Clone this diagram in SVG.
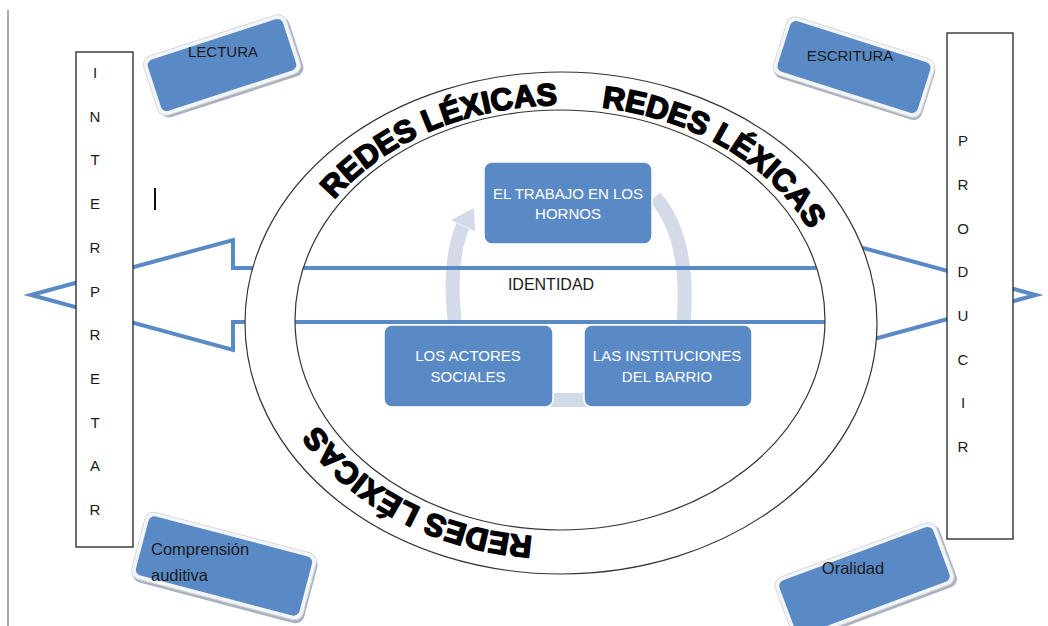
<svg xmlns="http://www.w3.org/2000/svg" xmlns:xlink="http://www.w3.org/1999/xlink" width="1048" height="626" viewBox="0 0 1048 626">
<style>
.lbl{font-family:"Liberation Sans",Arial,sans-serif;font-size:15px;fill:#1a1a1a}
.wl{font-family:"Liberation Sans",Arial,sans-serif;font-size:15px;fill:#ffffff;text-anchor:middle}
.vl{font-family:"Liberation Sans",Arial,sans-serif;font-size:15px;fill:#1a1a1a;text-anchor:middle}
.arc{font-family:"Liberation Sans",Arial,sans-serif;font-weight:bold;fill:#000;stroke:#000;stroke-width:1.6px;stroke-linejoin:round}
.node{fill:#5a8ac6;stroke:#ffffff;stroke-width:1.5}
.sh{fill:#a9b1bc}
.fr{fill:#f4f5f7;stroke:#d6d9de;stroke-width:1}
.bl{fill:#5a8ac6}
.cyc{fill:none;stroke:#d3dbe9;stroke-width:14}
.ell{fill:none;stroke:#333;stroke-width:1.2}
.vbox{fill:#fff;stroke:#222;stroke-width:1.3}
</style>
<defs>
<path id="p1" d="M 308.8 236.6 A 274 216 0 0 1 608.6 108.3"/>
<path id="p2" d="M 551.4 105.1 A 274 216 0 0 1 829.0 276.1"/>
<path id="p3" d="M 583 536.5 A 274 216 0 0 1 295 380"/>
</defs>
<rect x="0" y="0" width="1048" height="626" fill="#fff"/>
<line x1="8" y1="10" x2="8" y2="626" stroke="#555" stroke-width="1"/>
<rect x="154" y="188" width="2" height="22" fill="#111"/>

<g id="cycle">
<path class="cyc" d="M 456 330 C 450 290, 452 250, 463 226"/>
<polygon points="474,208 475,231 451,220" fill="#d3dbe9"/>
<path class="cyc" d="M 655 197 C 675 220, 690 260, 683 330"/>
<rect x="550" y="393" width="38" height="14" fill="#d3dbe9"/>
</g>

<g id="connectors">
<polygon points="31,295 233,240 233,268 834,268 834,240 1036,295 834,350 834,322 233,322 233,350 31,295" fill="none" stroke="#5a8ac6" stroke-width="4" stroke-linejoin="miter"/>
</g>

<g id="ring">
<path d="M 245 323 A 316 251 0 1 0 877 323 A 316 251 0 1 0 245 323 Z M 295 320 A 265 210 0 1 0 825 320 A 265 210 0 1 0 295 320 Z" fill="#fff" fill-rule="evenodd"/>
<ellipse class="ell" cx="561" cy="323" rx="316" ry="251"/>
<ellipse class="ell" cx="560" cy="320" rx="265" ry="210"/>
<text class="arc" font-size="31"><textPath xlink:href="#p1" href="#p1" startOffset="49%" text-anchor="middle">REDES LÉXICAS</textPath></text>
<text class="arc" font-size="31"><textPath xlink:href="#p2" href="#p2" startOffset="50%" text-anchor="middle">REDES LÉXICAS</textPath></text>
<text class="arc" font-size="31"><textPath xlink:href="#p3" href="#p3" startOffset="50%" text-anchor="middle">REDES LÉXICAS</textPath></text>
</g>

<g id="identidad">
<text class="vl" x="551" y="290" style="font-size:16px">IDENTIDAD</text>
</g>

<g id="n-trabajo">
<rect class="node" x="484" y="162" width="168" height="82" rx="8"/>
<text class="wl" x="568" y="198.5">EL TRABAJO EN LOS</text>
<text class="wl" x="568" y="218.5">HORNOS</text>
</g>
<g id="n-actores">
<rect class="node" x="384" y="325" width="169" height="82" rx="8"/>
<text class="wl" x="468" y="360.5">LOS ACTORES</text>
<text class="wl" x="468" y="381.5">SOCIALES</text>
</g>
<g id="n-instituciones">
<rect class="node" x="584" y="325" width="168" height="82" rx="8"/>
<text class="wl" x="667" y="360.5">LAS INSTITUCIONES</text>
<text class="wl" x="667" y="381.5">DEL BARRIO</text>
</g>

<g id="n-interpretar">
<rect class="vbox" x="76" y="52" width="57" height="495"/>
<text class="vl" x="95" y="78">I</text>
<text class="vl" x="95" y="121.7">N</text>
<text class="vl" x="95" y="165.4">T</text>
<text class="vl" x="95" y="209.1">E</text>
<text class="vl" x="95" y="252.8">R</text>
<text class="vl" x="95" y="296.5">P</text>
<text class="vl" x="95" y="340.2">R</text>
<text class="vl" x="95" y="383.9">E</text>
<text class="vl" x="95" y="427.6">T</text>
<text class="vl" x="95" y="471.3">A</text>
<text class="vl" x="95" y="515">R</text>
</g>
<g id="n-producir">
<rect class="vbox" x="947" y="33" width="66" height="506"/>
<text class="vl" x="963" y="146.1">P</text>
<text class="vl" x="963" y="189.8">R</text>
<text class="vl" x="963" y="233.5">O</text>
<text class="vl" x="963" y="277.2">D</text>
<text class="vl" x="963" y="320.9">U</text>
<text class="vl" x="963" y="364.6">C</text>
<text class="vl" x="963" y="408.3">I</text>
<text class="vl" x="963" y="452">R</text>
</g>

<g id="n-lectura">
<g transform="translate(222,65) rotate(-18)">
<rect class="sh" x="-73" y="-28" width="150" height="62" rx="9"/>
<rect class="fr" x="-75" y="-31" width="150" height="62" rx="9"/>
<rect class="bl" x="-71" y="-27" width="142" height="54" rx="6"/>
</g>
<text class="vl" x="223" y="57">LECTURA</text>
</g>
<g id="n-escritura">
<g transform="translate(854,67) rotate(17.6)">
<rect class="sh" x="-76" y="-28" width="155" height="61" rx="9"/>
<rect class="fr" x="-77.5" y="-30.5" width="155" height="61" rx="9"/>
<rect class="bl" x="-73.5" y="-26.5" width="147" height="53" rx="6"/>
</g>
<text class="vl" x="850" y="61">ESCRITURA</text>
</g>
<g id="n-comprension">
<g transform="translate(224,566) rotate(14.7)">
<rect class="sh" x="-86.5" y="-31.5" width="177" height="69" rx="9"/>
<rect class="fr" x="-88.5" y="-34.5" width="177" height="69" rx="9"/>
<rect class="bl" x="-84.5" y="-30.5" width="169" height="61" rx="6"/>
</g>
<text class="lbl" x="151" y="555" style="font-size:16.5px">Comprensión</text>
<text class="lbl" x="151" y="581" style="font-size:16.5px">auditiva</text>
</g>
<g id="n-oralidad">
<g transform="translate(864.5,581) rotate(-20.4)">
<rect class="sh" x="-84" y="-30" width="172" height="66" rx="9"/>
<rect class="fr" x="-86" y="-33" width="172" height="66" rx="9"/>
<rect class="bl" x="-82" y="-29" width="164" height="58" rx="6"/>
</g>
<text class="vl" x="853" y="574" style="font-size:16.5px">Oralidad</text>
</g>
</svg>
